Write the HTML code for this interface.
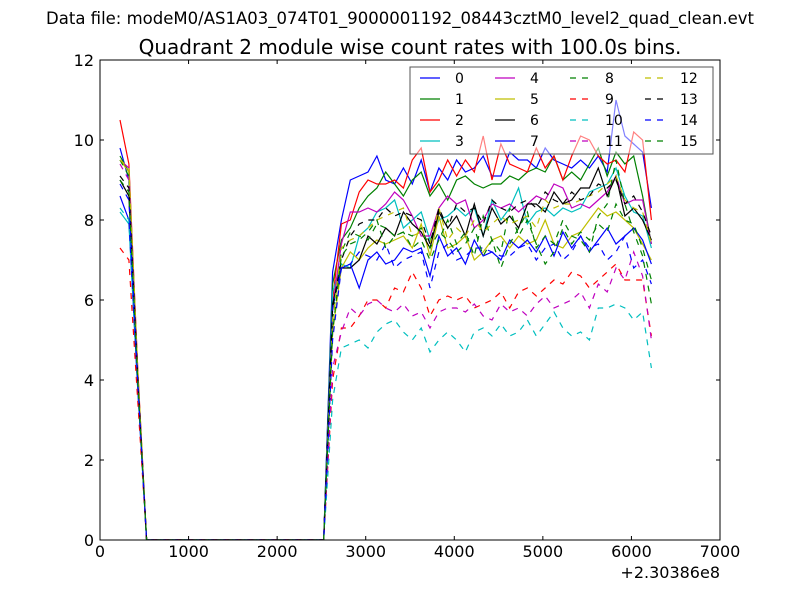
<!DOCTYPE html>
<html><head><meta charset="utf-8"><style>
body{margin:0;background:#fff;}
svg text{font-family:"DejaVu Sans","Liberation Sans",sans-serif;}
</style></head><body>
<svg id="chart" width="800" height="600" xmlns="http://www.w3.org/2000/svg">
<rect width="800" height="600" fill="#fff"/>
<text x="400" y="24" font-size="16.5" text-anchor="middle">Data file: modeM0/AS1A03_074T01_9000001192_08443cztM0_level2_quad_clean.evt</text>
<text x="410" y="54" font-size="20" text-anchor="middle">Quadrant 2 module wise count rates with 100.0s bins.</text>
<defs><clipPath id="pc"><rect x="100" y="60" width="620" height="480"/></clipPath></defs>
<g id="series" clip-path="url(#pc)"></g>
<rect x="100" y="60" width="620" height="480" fill="none" stroke="#000" stroke-width="1"/>
<g id="axes"></g>
<text x="720" y="578" font-size="16" text-anchor="end">+2.30386e8</text>
<g id="legend"></g>
</svg>
<script>
const xTicks=[0,1000,2000,3000,4000,5000,6000,7000];
const yTicks=[0,2,4,6,8,10,12];
const seriesNames=["0","1","2","3","4","5","6","7","8","9","10","11","12","13","14","15"];
const heads=[
[9.8,9.0,4.0],[9.6,9.2,4.2],[10.5,9.4,4.3],[8.2,7.9,3.8],[9.5,9.3,4.2],[9.5,9.2,4.2],[9.0,8.6,4.0],[8.6,8.0,3.8],
[9.5,9.1,4.1],[7.3,7.0,3.5],[8.3,8.0,3.9],[9.4,9.0,4.1],[9.5,9.3,4.3],[9.1,8.8,4.1],[8.9,8.5,4.0],[9.0,8.7,4.0]];
const tails=[
[6.7,8.0,9.0,9.1,9.2,9.6,9.0,8.9,9.3,8.9,9.5,8.7,9.3,9.0,9.5,9.2,9.3,9.6,9.1,9.1,9.7,9.5,9.5,9.3,9.8,9.5,9.4,9.3,9.5,9.3,9.6,9.2,11.0,10.1,9.9,9.7,8.3],
[6.4,7.5,7.8,8.3,8.6,8.8,9.2,8.9,8.6,9.0,9.2,8.6,8.9,8.5,9.0,9.1,8.9,8.8,8.9,8.9,9.1,9.0,9.2,9.3,9.2,9.6,9.0,9.2,9.0,9.4,9.8,9.1,9.7,9.4,9.6,8.6,7.4],
[6.0,7.9,8.0,8.7,9.0,8.9,8.9,9.0,8.8,9.5,9.8,8.7,9.0,9.5,9.1,9.5,9.2,10.1,9.0,9.9,9.4,9.3,9.2,9.8,9.3,9.6,9.0,9.6,10.1,10.0,9.6,9.4,9.5,9.2,10.2,10.0,8.0],
[6.2,6.9,6.8,7.6,7.8,8.2,8.3,8.5,7.8,8.0,8.2,7.5,8.0,8.1,8.3,8.1,8.3,7.6,8.5,8.0,8.3,8.8,7.9,8.2,8.3,8.1,8.3,8.2,8.3,8.7,8.8,8.9,9.3,8.6,8.2,8.1,7.3],
[5.8,7.4,8.2,8.2,8.3,8.2,8.4,8.7,8.5,8.1,7.6,7.6,8.3,8.6,8.4,8.5,7.8,8.0,8.4,8.3,8.4,8.2,8.4,8.6,8.5,8.9,8.8,8.3,8.4,8.3,8.5,8.7,9.1,8.4,8.5,8.5,7.4],
[5.2,6.8,7.2,7.0,7.3,7.5,7.4,7.5,7.6,7.3,7.9,7.1,8.1,7.3,7.4,7.6,7.0,7.2,7.5,7.6,7.3,7.6,7.4,7.5,8.0,7.4,7.3,7.6,7.7,8.0,8.3,8.1,8.2,8.0,7.8,7.4,7.0],
[5.9,6.8,6.8,7.0,7.6,7.4,7.8,7.6,8.2,7.9,7.7,7.3,8.2,7.8,8.1,7.6,8.4,7.6,8.3,7.9,8.1,7.8,8.4,8.4,8.2,8.7,8.4,8.5,8.8,8.8,9.3,8.6,9.1,8.1,8.3,8.0,7.5],
[5.8,6.8,6.9,6.3,7.0,7.2,6.9,7.0,7.3,7.2,7.3,6.6,7.6,7.1,7.3,6.9,7.5,7.1,7.2,7.0,7.5,7.3,7.5,7.2,7.6,7.1,7.7,7.3,7.6,7.2,7.5,7.8,7.4,7.6,7.8,7.5,6.9],
[5.5,7.2,7.7,7.6,7.5,7.9,7.8,7.6,7.7,7.3,7.5,7.0,7.5,8.0,7.4,7.7,7.1,8.1,7.5,7.2,8.3,7.6,8.0,7.4,6.9,7.2,7.8,7.4,7.7,7.5,7.9,7.7,8.4,8.0,7.9,7.3,6.5],
[4.0,5.3,5.3,5.6,6.0,6.0,5.8,6.3,6.2,6.7,6.3,5.6,6.0,6.1,6.0,6.1,5.8,5.9,6.0,6.2,5.8,6.2,6.3,6.1,6.3,6.5,6.4,6.7,6.6,6.3,6.5,6.7,6.9,6.5,6.5,6.5,5.1],
[3.5,4.8,4.9,5.0,4.8,5.2,5.4,5.5,5.2,5.0,5.3,4.7,5.0,5.2,5.0,4.7,5.2,5.3,5.1,5.4,5.1,5.2,5.5,5.1,5.4,5.7,5.3,5.1,5.2,5.0,5.8,5.8,5.9,5.8,5.5,5.7,4.3],
[4.3,5.2,5.8,5.6,5.9,6.0,5.8,5.7,5.9,5.6,5.7,5.3,5.7,5.8,5.8,5.7,5.9,5.6,5.5,5.9,5.7,5.8,5.6,5.9,6.1,5.8,5.9,6.0,6.2,5.8,6.4,6.2,6.8,6.5,7.2,6.6,5.0],
[5.5,7.3,7.5,7.6,7.8,8.0,8.1,8.2,8.3,7.6,7.7,7.4,8.3,7.5,7.8,7.6,8.0,7.7,7.9,8.1,7.9,8.0,8.1,7.8,8.5,8.3,8.4,8.4,8.5,8.6,8.7,8.9,9.1,8.5,8.3,8.2,7.4],
[5.8,7.0,7.6,7.9,8.0,8.0,8.3,8.1,8.2,8.1,8.0,7.4,8.3,7.8,8.4,8.2,8.3,7.9,8.5,8.3,8.2,8.4,8.5,8.3,8.7,8.5,8.4,8.7,8.5,8.6,8.9,8.8,9.0,8.4,8.6,8.2,7.6],
[5.0,6.8,6.9,7.2,7.1,7.0,7.4,6.8,7.0,7.1,7.2,6.3,7.2,7.4,7.0,7.1,7.3,7.3,7.2,7.1,7.1,7.3,7.4,7.0,7.3,7.4,7.0,7.2,7.6,7.3,7.4,7.0,7.2,7.6,6.8,7.0,6.4],
[5.2,7.1,7.4,7.5,7.7,8.0,7.3,7.6,7.7,7.6,7.8,7.3,7.7,7.5,7.2,7.4,7.8,7.1,7.5,6.8,7.4,7.8,8.2,7.3,7.6,7.4,8.0,7.6,7.5,7.2,8.1,8.4,9.5,8.4,7.7,7.1,5.9]];
const zeroCount=21;
const x0=226, binWidth=100;
const colors=["#0000ff","#008000","#ff0000","#00bfbf","#bf00bf","#bfbf00","#000000"];
const NS="http://www.w3.org/2000/svg";
function xs(v){return 100+v*620/7000;}
function ys(v){return 540-v*40;}
function mk(tag,attrs,parent){const e=document.createElementNS(NS,tag);for(const k in attrs)e.setAttribute(k,attrs[k]);parent.appendChild(e);return e;}
const axes=document.getElementById('axes');
xTicks.forEach(t=>{
  const x=xs(t);
  const a=mk('line',{x1:x,x2:x,y1:540,y2:536,stroke:'#000'},axes);
  
  
  const b=mk('line',{x1:x,x2:x,y1:60,y2:64,stroke:'#000'},axes);
  
  
  const l=mk('text',{x:x,y:557,'font-size':16,'text-anchor':'middle'},axes);
  l.textContent=t;
  
  
});
yTicks.forEach(t=>{
  const y=ys(t);
  const a=mk('line',{x1:100,x2:104,y1:y,y2:y,stroke:'#000'},axes);
  
  
  const b=mk('line',{x1:716,x2:720,y1:y,y2:y,stroke:'#000'},axes);
  
  
  const l=mk('text',{x:94,y:y+6,'font-size':16,'text-anchor':'end'},axes);
  l.textContent=t;
  
  
});
const g=document.getElementById('series');
seriesNames.forEach((n,i)=>{
  const vals=heads[i].concat(new Array(zeroCount).fill(0),tails[i]);
  const pts=vals.map((v,j)=>xs(x0+j*binWidth).toFixed(1)+','+ys(v).toFixed(1)).join(' ');
  const attrs={points:pts,fill:'none',stroke:colors[i%7],'stroke-width':1.2};
  if(i>=8)attrs['stroke-dasharray']='6,6';
  const p=mk('polyline',attrs,g);
  
  
});
const lg=document.getElementById('legend');
const box=mk('rect',{x:410,y:67,width:303,height:87,fill:'#fff','fill-opacity':0.5,stroke:'#555','stroke-width':1},lg);


seriesNames.forEach((n,i)=>{
  const col=Math.floor(i/4),row=i%4;
  const lx=420+col*75,ly=78+row*21;
  const attrs={x1:lx,x2:lx+20,y1:ly,y2:ly,stroke:colors[i%7],'stroke-width':1.2};
  if(i>=8)attrs['stroke-dasharray']='6,6';
  const ln=mk('line',attrs,lg);
  
  
  const t=mk('text',{x:lx+35,y:ly+5,'font-size':14,'text-anchor':'start'},lg);
  t.textContent=n;
  
  
});
</script>
</body></html>
